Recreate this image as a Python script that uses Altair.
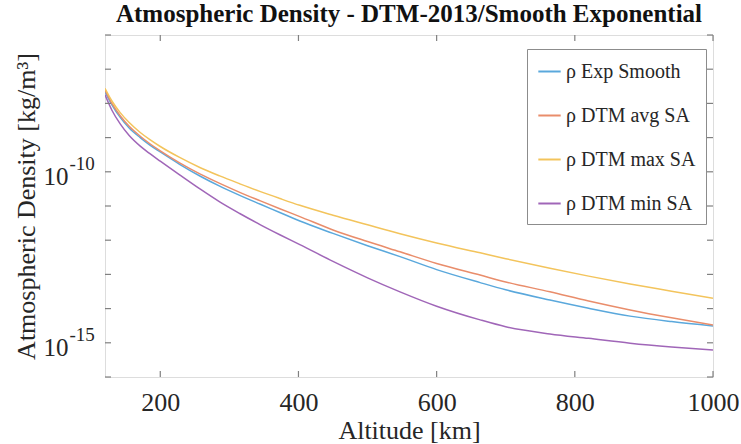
import altair as alt
import pandas as pd

# Altitude grid [km] at which the curves were read
altitude_km = [120, 130, 142, 155, 171, 185, 200, 228, 258, 286, 315, 345, 373, 402,
               450, 500, 547, 600, 663, 700, 764, 820, 880, 940, 1000]

# log10 of density [kg/m^3]
log_rho_exp_smooth = [-7.66, -8.04, -8.41, -8.72, -9.00, -9.22, -9.42, -9.78, -10.13, -10.42,
                      -10.69, -10.95, -11.19, -11.44, -11.80, -12.16, -12.48, -12.86, -13.24,
                      -13.45, -13.75, -13.99, -14.22, -14.38, -14.51]
log_rho_dtm_avg = [-7.61, -8.00, -8.36, -8.67, -8.96, -9.18, -9.39, -9.74, -10.07, -10.34,
                   -10.60, -10.85, -11.08, -11.31, -11.70, -12.04, -12.34, -12.68, -13.02,
                   -13.22, -13.51, -13.78, -14.04, -14.27, -14.48]
log_rho_dtm_max = [-7.56, -7.93, -8.27, -8.56, -8.85, -9.06, -9.26, -9.58, -9.88, -10.12,
                   -10.35, -10.58, -10.78, -10.98, -11.27, -11.55, -11.81, -12.08, -12.37,
                   -12.54, -12.82, -13.05, -13.28, -13.49, -13.70]
log_rho_dtm_min = [-7.75, -8.20, -8.60, -8.94, -9.25, -9.47, -9.69, -10.09, -10.51, -10.88,
                   -11.22, -11.55, -11.84, -12.13, -12.62, -13.10, -13.51, -13.93, -14.33,
                   -14.53, -14.74, -14.87, -15.01, -15.12, -15.21]

series_names = ["ρ Exp Smooth", "ρ DTM avg SA", "ρ DTM max SA", "ρ DTM min SA"]
series_colors = ["#5aa8dc", "#e98d6b", "#f3c45c", "#a066b8"]

x_ticks = [200, 400, 600, 800, 1000]
y_label_ticks = [1e-10, 1e-15]
y_minor_ticks = [1e-16, 1e-15, 1e-14, 1e-13, 1e-12, 1e-11, 1e-10, 1e-9, 1e-8, 1e-7, 1e-6]

rows = []
for name, vals in zip(series_names, [log_rho_exp_smooth, log_rho_dtm_avg,
                                     log_rho_dtm_max, log_rho_dtm_min]):
    for a, v in zip(altitude_km, vals):
        rows.append({"series": name, "alt": a, "logrho": v})
df = pd.DataFrame(rows)
xt_df = pd.DataFrame({"v": x_ticks})
yt_df = pd.DataFrame({"v": y_minor_ticks})

FONT = "Liberation Serif"
GRAY = "#8c8c8c"
TICK = "#808080"
TXT = "#262626"
W, H, TL = 608, 342, 6

x_scale = alt.Scale(domain=[120, 1000], nice=False, zero=False)
y_scale = alt.Scale(type="log", domain=[1e-16, 1e-6], nice=False)

base = alt.Chart(df).transform_calculate(rho="pow(10, datum.logrho)")

lines = base.mark_line(strokeWidth=1.5, clip=True, interpolate="monotone").encode(
    x=alt.X("alt:Q", scale=x_scale,
            axis=alt.Axis(orient="bottom", values=x_ticks, format="d", title="Altitude [km]",
                          ticks=False, domain=False, labelPadding=12, titlePadding=2,
                          labelFont=FONT, labelFontSize=26, labelColor=TXT,
                          titleFont=FONT, titleFontSize=26, titleFontWeight="normal",
                          titleColor=TXT, grid=False, labelFlush=False)),
    y=alt.Y("rho:Q", scale=y_scale,
            axis=alt.Axis(orient="left", values=y_label_ticks, labelExpr="'10'",
                          title="Atmospheric Density [kg/m³]",
                          ticks=False, domain=False, labelPadding=37, labelOffset=5,
                          titlePadding=4,
                          labelFont=FONT, labelFontSize=25, labelColor=TXT,
                          titleFont=FONT, titleFontSize=26, titleFontWeight="normal",
                          titleColor=TXT, grid=False)),
    color=alt.Color("series:N", sort=series_names,
                    scale=alt.Scale(domain=series_names, range=series_colors),
                    legend=alt.Legend(title=None, orient="none", legendX=422, legendY=14,
                                      symbolType="stroke", symbolSize=500,
                                      symbolStrokeWidth=2, labelFont=FONT,
                                      labelFontSize=20, labelColor=TXT,
                                      rowPadding=21, padding=10,
                                      strokeColor=GRAY, fillColor="white",
                                      labelLimit=300)),
    detail="series:N",
)

# exponent part of the y tick labels (superscript)
exponents = base.mark_line(opacity=0).encode(
    x=alt.X("alt:Q", scale=x_scale, axis=None),
    y=alt.Y("rho:Q", scale=y_scale,
            axis=alt.Axis(orient="left", values=y_label_ticks,
                          labelExpr="datum.value < 1e-12 ? '-15' : '-10'",
                          title=None, ticks=False, domain=False, labelPadding=36,
                          labelAlign="left", labelOffset=-8,
                          labelFont=FONT, labelFontSize=19, labelColor=TXT, grid=False)),
    detail="series:N",
)

# inward tick marks on all four sides (box axes)
xt = alt.Chart(xt_df).mark_rule(color=TICK, strokeWidth=1.2)
yt = alt.Chart(yt_df).mark_rule(color=TICK, strokeWidth=1.2)
xv = alt.X("v:Q", scale=x_scale, axis=None)
yv = alt.Y("v:Q", scale=y_scale, axis=None)
ticks_bottom = xt.encode(x=xv, y=alt.value(H), y2=alt.value(H - TL))
ticks_top = xt.encode(x=xv, y=alt.value(0), y2=alt.value(TL))
ticks_left = yt.encode(y=yv, x=alt.value(0), x2=alt.value(TL))
ticks_right = yt.encode(y=yv, x=alt.value(W), x2=alt.value(W - TL))

chart = alt.layer(lines, exponents, ticks_bottom, ticks_top, ticks_left,
                  ticks_right).resolve_axis(
    x="independent", y="independent"
).properties(
    width=W, height=H,
    autosize=alt.AutoSizeParams(type="none"),
    padding={"left": 105, "top": 35, "right": 28, "bottom": 67},
    title=alt.TitleParams("Atmospheric Density - DTM-2013/Smooth Exponential",
                          font=FONT, fontSize=25, fontWeight="bold", color="#111111",
                          anchor="middle", offset=7),
).configure_view(stroke=GRAY, strokeWidth=1.5).configure(background="white")

chart.save("out.html", embed_options={"renderer": "svg", "actions": False})
